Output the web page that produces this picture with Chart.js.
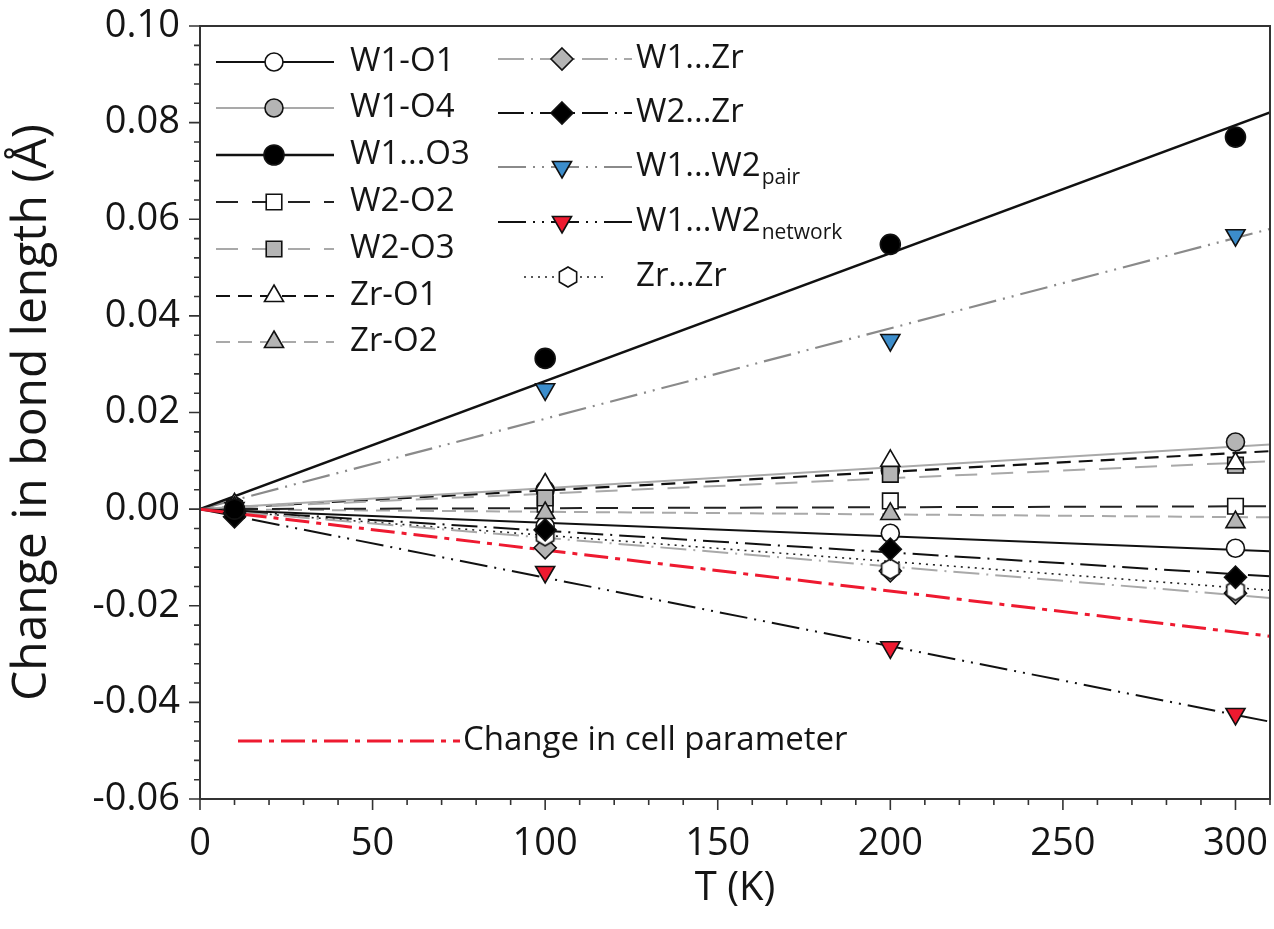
<!DOCTYPE html>
<html>
<head>
<meta charset="utf-8">
<script src="https://cdn.jsdelivr.net/npm/chart.js@4.4.0/dist/chart.umd.min.js"></script>
<style>
	html, body { margin: 0; padding: 0; background: #fff; }
	#wrap { width: 1274px; height: 929px; }
</style>
</head>
<body>
<div id="wrap"><canvas id="chart" width="1274" height="929"></canvas></div>
<script>

	/* Data (T in K, change in A) */
	var temps = [10, 100, 200, 300];

	var w1o1     = [0.0004, -0.0035, -0.0050, -0.0081];
	var w1o4     = [0.0006, 0.0040, 0.0080, 0.0139];
	var w1o3     = [0.0000, 0.0312, 0.0548, 0.0770];
	var w2o2     = [-0.0004, 0.0010, 0.0017, 0.0006];
	var w2o3     = [0.0001, 0.0023, 0.0072, 0.0091];
	var zro1     = [0.0010, 0.0051, 0.0100, 0.0095];
	var zro2     = [0.0003, -0.0008, -0.0010, -0.0027];
	var w1zr     = [-0.0008, -0.0080, -0.0128, -0.0174];
	var w2zr     = [-0.0016, -0.0043, -0.0083, -0.0141];
	var w1w2pair = [0.0002, 0.0248, 0.0350, 0.0567];
	var w1w2net  = [-0.0014, -0.0130, -0.0286, -0.0424];
	var zrzr     = [-0.0006, -0.0055, -0.0124, -0.0168];

	/* linear fits through the origin, value where they leave the plot (T = 310) */
	var fitNames = ['W1-O1', 'W1-O4', 'W1...O3', 'W2-O2', 'W2-O3', 'Zr-O1', 'Zr-O2',
	                'W1...Zr', 'W2...Zr', 'W1...W2pair', 'W1...W2network', 'Zr...Zr'];
	var fitAt310 = [-0.0087, 0.0134, 0.0821, 0.0006, 0.0099, 0.0120, -0.0017,
	                -0.0184, -0.0139, 0.0580, -0.0440, -0.0168];
	var cellFitAt310 = -0.0263;

	var xTicks = [0, 50, 100, 150, 200, 250, 300];
	var yTicks = [-0.06, -0.04, -0.02, 0.00, 0.02, 0.04, 0.06, 0.08, 0.10];

	var xMin = 0, xMax = 310, yMin = -0.06, yMax = 0.10;

	var FONT = '"Open Sans", "Noto Sans", sans-serif';
	var GRAY = '#b4b4b4';
	var LGRAY = '#a9a9a9';


	/* hexagon marker for Zr...Zr */
	function hexPath(ctx, x, y, r) {
		ctx.beginPath();
		for (var i = 0; i < 6; i++) {
			var a = Math.PI / 2 + i * Math.PI / 3;
			var px = x + r * Math.cos(a), py = y - r * Math.sin(a);
			if (i === 0) ctx.moveTo(px, py); else ctx.lineTo(px, py);
		}
		ctx.closePath();
	}
	var hexImg = document.createElement('canvas');
	hexImg.width = 24; hexImg.height = 24;
	(function() {
		var c = hexImg.getContext('2d');
		hexPath(c, 12, 12, 10);
		c.fillStyle = '#fff'; c.fill();
		c.lineWidth = 1.6; c.strokeStyle = '#111'; c.stroke();
	})();


	/* series styles (top: drawing order of the markers, lower = on top) */
	var series = [
		{ name: 'W1-O1',   values: w1o1, style: 'circle',   r: 9,  fill: '#fff', line: '#111', lw: 2,   dash: [],            col: 0, row: 0, top: 20 },
		{ name: 'W1-O4',   values: w1o4, style: 'circle',   r: 9,  fill: GRAY,   line: LGRAY,  lw: 2,   dash: [],            col: 0, row: 1, top: 19 },
		{ name: 'W1...O3', values: w1o3, style: 'circle',   r: 10, fill: '#000', line: '#111', lw: 2.4, dash: [],            col: 0, row: 2, top: 1 },
		{ name: 'W2-O2',   values: w2o2, style: 'rect',     r: 11, fill: '#fff', line: '#222', lw: 2,   dash: [22, 14],      col: 0, row: 3, top: 17 },
		{ name: 'W2-O3',   values: w2o3, style: 'rect',     r: 11, fill: GRAY,   line: LGRAY,  lw: 2,   dash: [22, 14],      col: 0, row: 4, top: 16 },
		{ name: 'Zr-O1',   values: zro1, style: 'triangle', r: 11, fill: '#fff', line: '#111', lw: 2.2, dash: [14, 8],       col: 0, row: 5, top: 15 },
		{ name: 'Zr-O2',   values: zro2, style: 'triangle', r: 11, fill: GRAY,   line: LGRAY,  lw: 2,   dash: [14, 8],       col: 0, row: 6, top: 14 },
		{ name: 'W1...Zr', values: w1zr, style: 'rectRot',  r: 11, fill: GRAY,   line: LGRAY,  lw: 2,   dash: [26, 7, 2, 7], col: 1, row: 0, top: 13 },
		{ name: 'W2...Zr', values: w2zr, style: 'rectRot',  r: 11, fill: '#000', line: '#111', lw: 2,   dash: [26, 7, 2, 7], col: 1, row: 1, top: 2 },
		{ name: 'W1...W2', sub: 'pair', values: w1w2pair, style: 'triangle', rot: 180, r: 11, fill: '#3c8dcb', line: '#8a8a8a', lw: 2.2, dash: [28, 7, 2, 7, 2, 7], col: 1, row: 2, top: 11 },
		{ name: 'W1...W2', sub: 'network', values: w1w2net, style: 'triangle', rot: 180, r: 11, fill: '#ee1a30', line: '#111', lw: 2, dash: [28, 7, 2, 7, 2, 7], col: 1, row: 3, top: 10 },
		{ name: 'Zr...Zr', values: zrzr, style: hexImg,     r: 10, fill: '#fff', line: '#222', lw: 1.6, dash: [2, 5],        col: 1, row: 4, top: 12 }
	];


	/* ********************************

	    Datasets

	******************************** */

	var datasets = [];

	series.forEach(function(s, i) {
		datasets.push({
			label: fitNames[i] + ' fit',
			data: [{ x: 0, y: 0 }, { x: xMax, y: fitAt310[i] }],
			showLine: true,
			borderColor: s.line,
			borderWidth: s.lw,
			borderDash: s.dash,
			pointRadius: 0,
			fill: false,
			order: 60
		});
	});

	datasets.push({
		label: 'Change in cell parameter',
		data: [{ x: 0, y: 0 }, { x: xMax, y: cellFitAt310 }],
		showLine: true,
		borderColor: '#ee1a30',
		borderWidth: 3,
		borderDash: [24, 7, 5, 7],
		pointRadius: 0,
		fill: false,
		order: 50
	});

	series.forEach(function(s, i) {
		datasets.push({
			label: s.name + (s.sub || ''),
			data: temps.map(function(t, k) { return { x: t, y: s.values[k] }; }),
			showLine: false,
			pointStyle: s.style,
			rotation: s.rot || 0,
			pointRadius: s.r,
			pointHoverRadius: s.r,
			pointBackgroundColor: s.fill,
			pointBorderColor: '#111',
			pointBorderWidth: 1.6,
			order: s.top
		});
	});


	/* ********************************

	    Custom markers for the legend

	******************************** */

	function drawMarker(ctx, s, x, y) {
		var r = s.r;
		ctx.save();
		ctx.setLineDash([]);
		ctx.fillStyle = s.fill;
		ctx.strokeStyle = '#111';
		ctx.lineWidth = 1.6;
		ctx.beginPath();
		if (s.style === 'circle') {
			ctx.arc(x, y, r, 0, Math.PI * 2);
		} else if (s.style === 'rect') {
			var h = r * Math.SQRT1_2;
			ctx.rect(x - h, y - h, 2 * h, 2 * h);
		} else if (s.style === 'rectRot') {
			ctx.moveTo(x, y - r); ctx.lineTo(x + r, y); ctx.lineTo(x, y + r); ctx.lineTo(x - r, y);
			ctx.closePath();
		} else if (s.style === 'triangle') {
			var d = s.rot ? -1 : 1;
			ctx.moveTo(x, y - d * r);
			ctx.lineTo(x + r * 0.866, y + d * r / 2);
			ctx.lineTo(x - r * 0.866, y + d * r / 2);
			ctx.closePath();
		} else {
			hexPath(ctx, x, y, r);
		}
		ctx.fill();
		ctx.stroke();
		ctx.restore();
	}

	var legendLayout = {
		col0: { x1: 216, x2: 334, mx: 274, tx: 350, rows: [62, 108, 155, 202, 249, 296, 342] },
		col1: { x1: 498, x2: 632, mx: 562, tx: 636, rows: [59, 113, 167, 222, 277] }
	};

	var legendPlugin = {
		id: 'figLegend',
		afterDatasetsDraw: function(chart) {
			var ctx = chart.ctx;
			ctx.save();
			series.forEach(function(s) {
				var L = s.col === 0 ? legendLayout.col0 : legendLayout.col1;
				var y = L.rows[s.row];
				var x1 = L.x1, x2 = L.x2, mx = L.mx;
				if (s.name === 'Zr...Zr') { x1 = 524; x2 = 608; mx = 568; }
				ctx.strokeStyle = s.line;
				ctx.lineWidth = s.lw;
				ctx.setLineDash(s.dash);
				ctx.beginPath();
				ctx.moveTo(x1, y);
				ctx.lineTo(x2, y);
				ctx.stroke();
				drawMarker(ctx, s, mx, y);

				ctx.fillStyle = '#151515';
				ctx.textBaseline = 'middle';
				ctx.textAlign = 'left';
				ctx.font = '33px ' + FONT;
				var tx = s.name === 'Zr...Zr' ? 636 : L.tx;
				ctx.fillText(s.name, tx, y);
				if (s.sub) {
					var w = ctx.measureText(s.name).width;
					ctx.font = '21px ' + FONT;
					ctx.fillText(s.sub, tx + w + 1, y + 11);
				}
			});

			/* cell parameter entry */
			ctx.strokeStyle = '#ee1a30';
			ctx.lineWidth = 3;
			ctx.setLineDash([24, 7, 5, 7]);
			ctx.beginPath();
			ctx.moveTo(238, 741);
			ctx.lineTo(460, 741);
			ctx.stroke();
			ctx.setLineDash([]);
			ctx.fillStyle = '#151515';
			ctx.font = '33px ' + FONT;
			ctx.textBaseline = 'middle';
			ctx.fillText('Change in cell parameter', 463, 741);
			ctx.restore();
		}
	};


	/* frame + major/minor ticks */
	var framePlugin = {
		id: 'frame',
		afterDraw: function(chart) {
			var ctx = chart.ctx, a = chart.chartArea;
			var xs = chart.scales.x, ys = chart.scales.y;
			ctx.save();
			ctx.strokeStyle = '#333';
			ctx.lineWidth = 2;
			ctx.setLineDash([]);
			ctx.strokeRect(a.left, a.top, a.right - a.left, a.bottom - a.top);

			ctx.lineWidth = 1.6;
			ctx.beginPath();
			for (var t = 0; t <= 310; t += 10) {
				var px = xs.getPixelForValue(t);
				var len = (t % 50 === 0) ? 11 : 6;
				ctx.moveTo(px, a.bottom);
				ctx.lineTo(px, a.bottom + len);
			}
			for (var k = 0; k <= 40; k++) {
				var v = yMin + k * 0.004;
				var py = ys.getPixelForValue(v);
				var l2 = (k % 5 === 0) ? 11 : 6;
				ctx.moveTo(a.left, py);
				ctx.lineTo(a.left - l2, py);
			}
			ctx.stroke();
			ctx.restore();
		}
	};


	/* ********************************

	    Chart

	******************************** */

	var chart = new Chart(document.getElementById('chart'), {
		type: 'scatter',
		data: { datasets: datasets },
		plugins: [legendPlugin, framePlugin],
		options: {
			responsive: false,
			animation: false,
			events: [],
			layout: { autoPadding: false, padding: { top: 26, right: 4, left: 0, bottom: 0 } },
			plugins: {
				legend: { display: false },
				tooltip: { enabled: false }
			},
			scales: {
				x: {
					type: 'linear',
					min: xMin,
					max: xMax,
					afterBuildTicks: function(scale) {
						scale.ticks = xTicks.map(function(v) { return { value: v }; });
					},
					afterFit: function(scale) {
						scale.height = 130;
						scale.paddingLeft = 0;
						scale.paddingRight = 0;
					},
					grid: { display: false, drawTicks: true, tickLength: 20 },
					border: { display: false },
					ticks: {
						padding: 2,
						color: '#151515',
						font: { family: FONT, size: 38 },
						maxRotation: 0,
						callback: function(v) { return String(v); }
					},
					title: {
						display: true,
						text: 'T (K)',
						color: '#151515',
						font: { family: FONT, size: 40 },
						padding: { top: 0, bottom: 16 }
					}
				},
				y: {
					type: 'linear',
					min: yMin,
					max: yMax,
					afterBuildTicks: function(scale) {
						scale.ticks = yTicks.map(function(v) { return { value: v }; });
					},
					afterFit: function(scale) {
						scale.width = 200;
						scale.paddingTop = 0;
						scale.paddingBottom = 0;
					},
					grid: { display: false, drawTicks: false },
					border: { display: false },
					ticks: {
						padding: 20,
						color: '#151515',
						font: { family: FONT, size: 38 },
						callback: function(v) { return v.toFixed(2); }
					},
					title: {
						display: true,
						text: 'Change in bond length (\u00c5)',
						color: '#151515',
						font: { family: FONT, size: 48 },
						padding: { bottom: 6 }
					}
				}
			}
		}
	});

</script>
</body>
</html>
